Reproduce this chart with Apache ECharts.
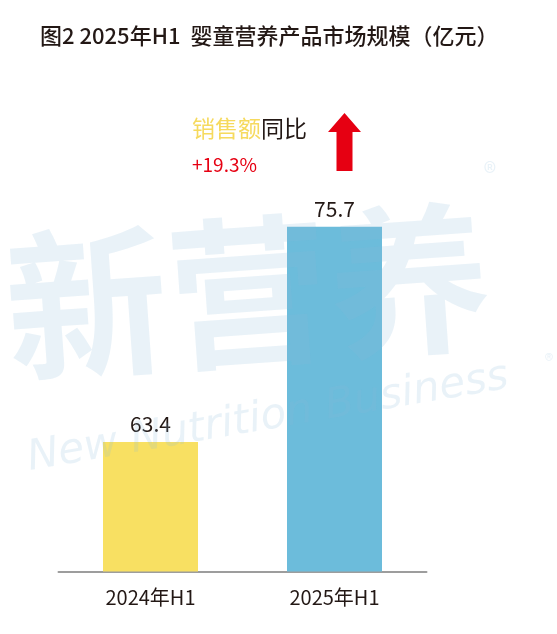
<!DOCTYPE html>
<html>
<head>
<meta charset="utf-8">
<script src="https://cdn.jsdelivr.net/npm/echarts@6/dist/echarts.min.js"></script>
<style>html,body{margin:0;padding:0;background:#fff;}#c{width:557px;height:634px;}</style>
</head>
<body>
<div id="c"></div>
<script>
var categories = ['2024年H1', '2025年H1'];
var values = [63.4, 75.7];
var barColors = ['#f8e062', '#6cbcdb'];
var titleText = '图2 2025年H1  婴童营养产品市场规模（亿元）';
var growthText = '+19.3%';

var chart = echarts.init(document.getElementById('c'));
var FONT = '"Noto Sans CJK SC", "Noto Sans", sans-serif';
var WM = 'rgba(140,185,220,0.19)';
chart.setOption({
  backgroundColor: '#ffffff',
  animation: false,
  title: {
    text: titleText, left: 35, top: 20,
    textStyle: {fontFamily: FONT, fontSize: 22, fontWeight: 500, color: '#231815'}
  },
  grid: {left: 58.5, right: 130.5, top: 151.5, bottom: 62.5},
  xAxis: {
    type: 'category', data: categories,
    axisLine: {lineStyle: {color: '#9d9d9d', width: 2}},
    axisTick: {show: false},
    axisLabel: {fontFamily: FONT, fontSize: 20, color: '#231815', margin: 16}
  },
  yAxis: {type: 'value', min: 56, max: 80, show: false, splitLine: {show: false}},
  series: [{
    type: 'bar', barWidth: 95,
    data: values.map(function (v, i) { return {value: v, itemStyle: {color: barColors[i]}}; }),
    label: {show: true, position: 'top', distance: 7, fontFamily: FONT, fontSize: 21, color: '#231815'}
  }],
  graphic: [
    {type: 'text', left: 192, top: 117, z: 10,
     style: {text: '{y|销售额}{k|同比}', rich: {
       y: {fontFamily: FONT, fontSize: 23, fill: '#f6da5e'},
       k: {fontFamily: FONT, fontSize: 23, fill: '#231815'}}}},
    {type: 'text', left: 192, top: 155, z: 10,
     style: {text: growthText, fontFamily: FONT, fontSize: 19, fill: '#e60012'}},
    {type: 'polygon', z: 10,
     shape: {points: [[344.5,113],[361,132],[352.5,132],[352.5,171],[336.5,171],[336.5,132],[328,132]]},
     style: {fill: '#e60012'}},
    {type: 'text', x: 248, y: 292, rotation: 0.07, z: 20, silent: true,
     style: {text: '新营养', fontFamily: FONT, fontWeight: 'bold', fontSize: 162, fill: WM, align: 'center', verticalAlign: 'middle'}},
    {type: 'text', x: 268, y: 418, rotation: 0.17, z: 20, silent: true,
     style: {text: 'New Nutrition Business', fontFamily: '"DejaVu Sans"', fontWeight: 200, fontStyle: 'italic', fontSize: 42, fill: WM, align: 'center', verticalAlign: 'middle'}},
    {type: 'text', x: 490, y: 172, z: 20, silent: true,
     style: {text: '®', fontFamily: FONT, fontSize: 26, fill: WM, align: 'center', verticalAlign: 'middle'}},
    {type: 'text', x: 549, y: 360, z: 20, silent: true,
     style: {text: '®', fontFamily: FONT, fontSize: 18, fill: WM, align: 'center', verticalAlign: 'middle'}}
  ]
});
</script>
</body>
</html>
